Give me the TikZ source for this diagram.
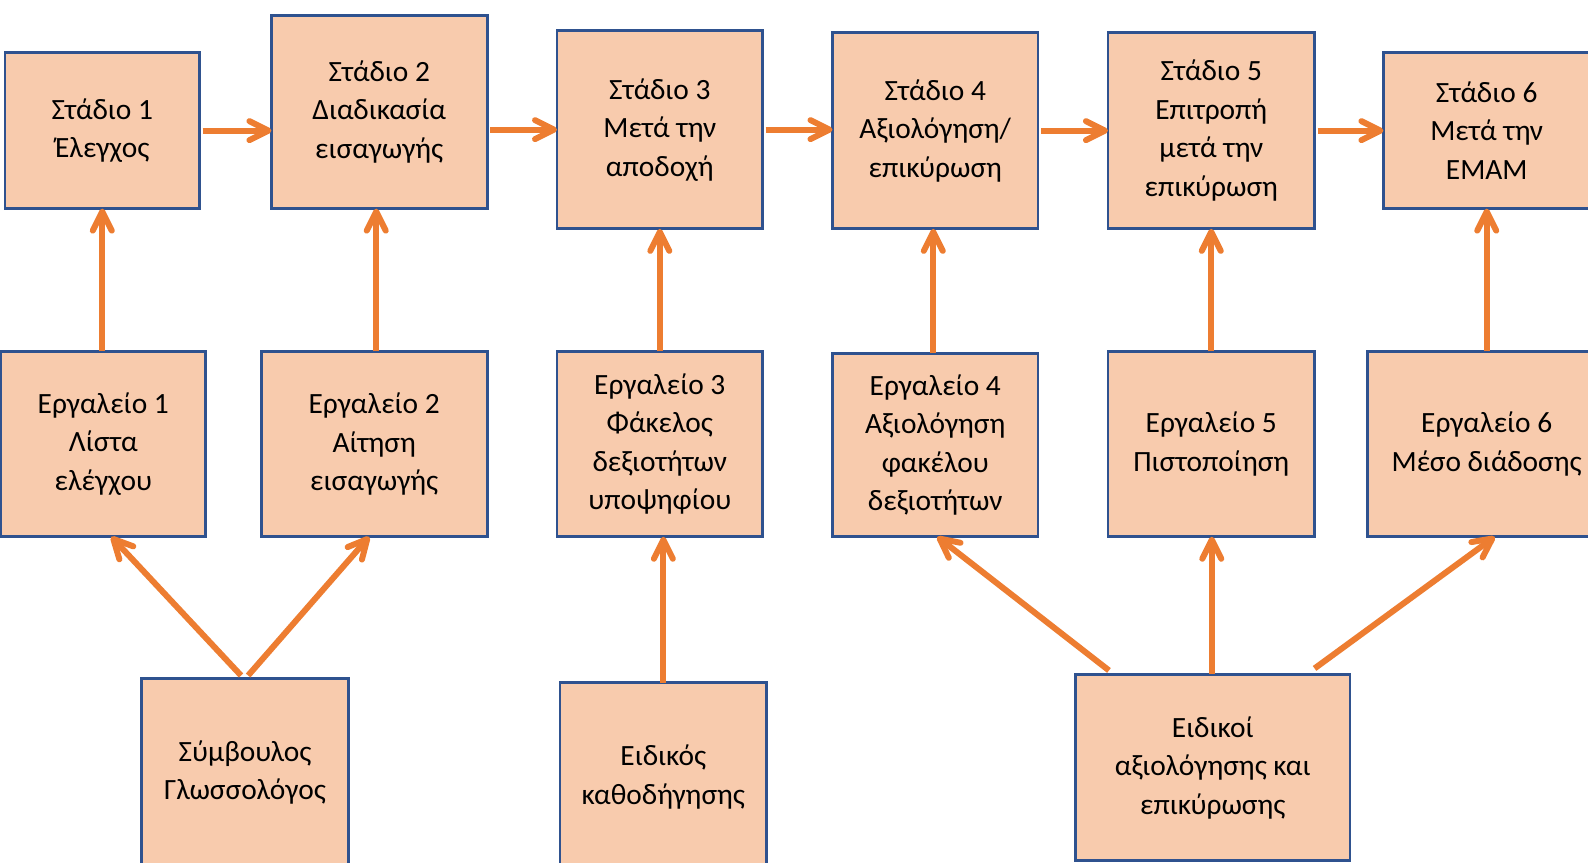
\documentclass[tikz,border=0pt]{standalone}
\usepackage{fontspec}
\setmainfont{Carlito}
\usetikzlibrary{arrows.meta,calc}
\definecolor{boxfill}{HTML}{F8CBAD}
\definecolor{boxline}{HTML}{2F528F}
\definecolor{arrcol}{HTML}{ED7D31}
\tikzset{
  box/.style 2 args={draw=boxline, line width=2.8pt, fill=boxfill, align=center,
    inner sep=0pt, outer sep=0pt, text=black,
    minimum width={#1*1.0128pt}, minimum height={#2*1.0128pt},
    font=\fontsize{29.4}{38.5}\selectfont},
  arr/.style={draw=arrcol, line width=6pt, -{Straight Barb[length=19pt,width=19pt,round]}}
}
\begin{document}
\begin{tikzpicture}[x=1.0128pt, y=-1.0128pt]
\useasboundingbox (0,0) rectangle (1568,852);
\clip (0,0) rectangle (1568,852);
\fill[white] (0,0) rectangle (1568,852);
% stages
\node[box={192}{154}] (s1) at (101,129) {Στάδιο 1\\Έλεγχος};
\node[box={213}{191}] (s2) at (374.5,110.5) {Στάδιο 2\\Διαδικασία\\εισαγωγής};
\node[box={203}{196}] (s3) at (651.5,128) {Στάδιο 3\\Μετά την\\αποδοχή};
\node[box={203}{194}] (s4) at (923.5,129) {Στάδιο 4\\Αξιολόγηση/\\επικύρωση};
\node[box={204}{194}] (s5) at (1196,129) {Στάδιο 5\\Επιτροπή\\μετά την\\επικύρωση};
\node[box={204}{154}] (s6) at (1468,129) {Στάδιο 6\\Μετά την\\ΕΜΑΜ};
% tools
\node[box={202}{183}] (t1) at (102,438.5) {Εργαλείο 1\\Λίστα\\ελέγχου};
\node[box={223}{183}] (t2) at (369.5,438.5) {Εργαλείο 2\\Αίτηση\\εισαγωγής};
\node[box={203}{183}] (t3) at (651.5,438.5) {Εργαλείο 3\\Φάκελος\\δεξιοτήτων\\υποψηφίου};
\node[box={203}{181}] (t4) at (923.5,439.5) {Εργαλείο 4\\Αξιολόγηση\\φακέλου\\δεξιοτήτων};
\node[box={204}{183}] (t5) at (1196,438.5) {Εργαλείο 5\\Πιστοποίηση};
\node[box={236}{183}] (t6) at (1468,438.5) {Εργαλείο 6\\Μέσο διάδοσης};
% actors
\node[box={204}{186}] (b1) at (242,763) {Σύμβουλος\\Γλωσσολόγος};
\node[box={204}{186}] (b2) at (655,767) {Ειδικός\\καθοδήγησης};
\node[box={271}{184}] (b3) at (1197.5,758) {Ειδικοί\\αξιολόγησης και\\επικύρωσης};
% stage arrows
\draw[arr] ([xshift=3pt]s1.east) -- (s1.east -| s2.west);
\draw[arr] ([xshift=3pt]s2.east |- s3.west) -- (s3.west);
\draw[arr] ([xshift=3pt]s3.east) -- (s3.east -| s4.west);
\draw[arr] ([xshift=3pt]s4.east) -- (s4.east -| s5.west);
\draw[arr] ([xshift=3pt]s5.east) -- (s5.east -| s6.west);
% tool arrows
\draw[arr] (t1.north -| s1.south) -- (s1.south);
\draw[arr] ([xshift=2pt]t2.north) -- ([xshift=2pt]t2.north |- s2.south);
\draw[arr] (t3.north) -- (t3.north |- s3.south);
\draw[arr] ([xshift=-2pt]t4.north) -- ([xshift=-2pt]t4.north |- s4.south);
\draw[arr] (t5.north) -- (t5.north |- s5.south);
\draw[arr] (t6.north) -- (t6.north |- s6.south);
% actor arrows
\draw[arr] ([shift={(-4,-3)}]b1.north) -- ([xshift=8pt]t1.south);
\draw[arr] ([shift={(3,-3)}]b1.north) -- ([xshift=-5pt]t2.south);
\draw[arr] (b2.north) -- (b2.north |- t3.south);
\draw[arr] ([shift={(33,-4)}]b3.north west) -- ([xshift=2pt]t4.south);
\draw[arr] ([xshift=-1pt]b3.north) -- ([xshift=-1pt]b3.north |- t5.south);
\draw[arr] ([shift={(-35,-6)}]b3.north east) -- ([xshift=8pt]t6.south);
\end{tikzpicture}
\end{document}
